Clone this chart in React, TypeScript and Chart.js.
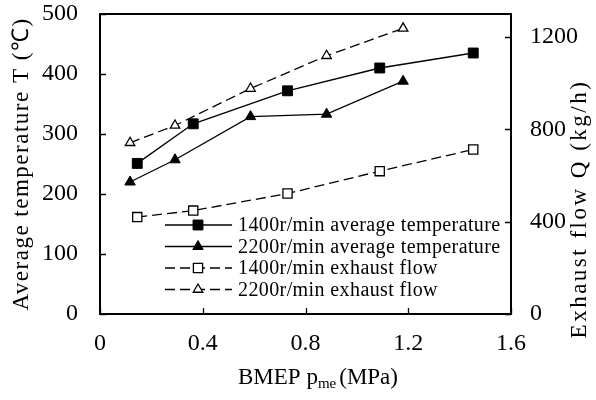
import React, { useEffect, useRef } from 'react';
import { Chart, registerables } from 'chart.js';

Chart.register(...registerables);

const FONT = '"Liberation Serif", "Times New Roman", serif';

// BMEP (MPa) values at 1400 r/min and 2200 r/min
const bmep1400 = [0.145, 0.363, 0.73, 1.089, 1.453];
const bmep2200 = [0.117, 0.292, 0.586, 0.882, 1.18];
// Average temperature (°C)
const temp1400 = [251, 317, 372, 410, 435];
const temp2200 = [220, 257, 329, 333, 388];
// Exhaust flow (kg/h)
const flow1400 = [420, 448, 522, 619, 713];
const flow2200 = [742, 817, 977, 1119, 1238];

const seriesLabels = [
  '1400r/min average temperature',
  '2200r/min average temperature',
  '1400r/min exhaust flow',
  '2200r/min exhaust flow',
];

const xTicks = [0, 0.4, 0.8, 1.2, 1.6];
const tempTicks = [0, 100, 200, 300, 400, 500];
const flowTicks = [0, 400, 800, 1200];

const xTitleMain = 'BMEP p';
const xTitleSub = 'me';
const xTitleTail = '(MPa)';
const yTitle = 'Average temperature T (℃)';
const y1Title = 'Exhaust flow Q (kg/h)';

const pts = (xs: number[], ys: number[]) => xs.map((x, i) => ({ x, y: ys[i] }));

function drawMarker(ctx: CanvasRenderingContext2D, style: string, cx: number, cy: number, r: number) {
  ctx.beginPath();
  if (style === 'rect') {
    const s = r * Math.SQRT1_2;
    ctx.rect(cx - s, cy - s, 2 * s, 2 * s);
  } else {
    let rad = 0;
    const third = (2 * Math.PI) / 3;
    ctx.moveTo(cx + Math.sin(rad) * r, cy - Math.cos(rad) * r);
    rad += third;
    ctx.lineTo(cx + Math.sin(rad) * r, cy - Math.cos(rad) * r);
    rad += third;
    ctx.lineTo(cx + Math.sin(rad) * r, cy - Math.cos(rad) * r);
    ctx.closePath();
  }
  ctx.fill();
  ctx.stroke();
}

const decor = {
  id: 'decor',
  afterDatasetsDraw(chart: any) {
    const { ctx, chartArea: a, scales } = chart;
    ctx.save();
    ctx.strokeStyle = '#000';
    ctx.setLineDash([]);
    // frame
    ctx.lineWidth = 2;
    ctx.strokeRect(a.left, a.top, a.right - a.left, a.bottom - a.top);
    // inward ticks
    ctx.lineWidth = 1.3;
    ctx.beginPath();
    for (const v of xTicks) {
      const px = Math.round(scales.x.getPixelForValue(v)) + 0.5;
      ctx.moveTo(px, a.bottom);
      ctx.lineTo(px, a.bottom - 6);
    }
    for (const v of tempTicks) {
      const py = Math.round(scales.y.getPixelForValue(v)) + 0.5;
      ctx.moveTo(a.left, py);
      ctx.lineTo(a.left + 6, py);
    }
    for (const v of flowTicks) {
      const py = Math.round(scales.y1.getPixelForValue(v)) + 0.5;
      ctx.moveTo(a.right, py);
      ctx.lineTo(a.right - 6, py);
    }
    ctx.stroke();

    // legend
    const lx0 = 165;
    const lx1 = 232;
    const lxm = 198;
    const rows = [225, 246.5, 268, 289.5];
    chart.data.datasets.forEach((ds: any, i: number) => {
      const y = rows[i];
      ctx.lineWidth = ds.borderWidth;
      ctx.strokeStyle = ds.borderColor;
      ctx.setLineDash(ds.borderDash || []);
      ctx.beginPath();
      ctx.moveTo(lx0, y);
      ctx.lineTo(lx1, y);
      ctx.stroke();
      ctx.setLineDash([]);
      ctx.fillStyle = ds.pointBackgroundColor;
      ctx.strokeStyle = ds.pointBorderColor;
      ctx.lineWidth = ds.pointBorderWidth;
      drawMarker(ctx, ds.pointStyle, lxm, y, ds.pointRadius);
      ctx.fillStyle = '#000';
      ctx.font = `20px ${FONT}`;
      ctx.textAlign = 'left';
      ctx.textBaseline = 'middle';
      (ctx as any).letterSpacing = '0.4px';
      ctx.fillText(ds.label, 238, y + 1);
      (ctx as any).letterSpacing = '0px';
    });

    // axis titles
    ctx.fillStyle = '#000';
    ctx.textBaseline = 'middle';
    ctx.textAlign = 'center';
    (ctx as any).letterSpacing = '1.5px';
    ctx.font = `23px ${FONT}`;
    ctx.save();
    ctx.translate(22, 164);
    ctx.rotate(-Math.PI / 2);
    ctx.fillText(yTitle, 0, 0);
    ctx.restore();
    ctx.save();
    ctx.translate(580, 209);
    ctx.rotate(-Math.PI / 2);
    (ctx as any).letterSpacing = '2.5px';
    ctx.fillText(y1Title, 0, 0);
    ctx.restore();
    (ctx as any).letterSpacing = '0px';

    // x title with subscript
    ctx.textBaseline = 'alphabetic';
    ctx.textAlign = 'left';
    const mainFont = `23px ${FONT}`;
    const subFont = `15px ${FONT}`;
    ctx.font = mainFont;
    const w1 = ctx.measureText(xTitleMain).width;
    const w3 = ctx.measureText(xTitleTail).width;
    ctx.font = subFont;
    const w2 = ctx.measureText(xTitleSub).width;
    const gap = 3;
    const total = w1 + w2 + gap + w3;
    let tx = 318 - total / 2;
    const by = 384;
    ctx.font = mainFont;
    ctx.fillText(xTitleMain, tx, by);
    tx += w1;
    ctx.font = subFont;
    ctx.fillText(xTitleSub, tx, by + 4);
    tx += w2 + gap;
    ctx.font = mainFont;
    ctx.fillText(xTitleTail, tx, by);
    ctx.restore();
  },
};

const noPadY = (w: number) => (s: any) => {
  s.width = w;
  s.paddingTop = 0;
  s.paddingBottom = 0;
};

export default function App() {
  const ref = useRef<HTMLCanvasElement>(null);
  useEffect(() => {
    if (!ref.current) return;
    const chart = new Chart(ref.current, {
      type: 'line',
      data: {
        datasets: [
          {
            label: seriesLabels[0],
            data: pts(bmep1400, temp1400),
            yAxisID: 'y',
            borderColor: '#000',
            borderWidth: 1.3,
            pointStyle: 'rect',
            pointRadius: 7,
            pointBackgroundColor: '#000',
            pointBorderColor: '#000',
            pointBorderWidth: 1,
            borderDash: [],
          },
          {
            label: seriesLabels[1],
            data: pts(bmep2200, temp2200),
            yAxisID: 'y',
            borderColor: '#000',
            borderWidth: 1.3,
            pointStyle: 'triangle',
            pointRadius: 6,
            pointBackgroundColor: '#000',
            pointBorderColor: '#000',
            pointBorderWidth: 1,
            borderDash: [],
          },
          {
            label: seriesLabels[2],
            data: pts(bmep1400, flow1400),
            yAxisID: 'y1',
            borderColor: '#000',
            borderWidth: 1.3,
            borderDash: [10, 5],
            pointStyle: 'rect',
            pointRadius: 6.5,
            pointBackgroundColor: '#fff',
            pointBorderColor: '#000',
            pointBorderWidth: 1.3,
          },
          {
            label: seriesLabels[3],
            data: pts(bmep2200, flow2200),
            yAxisID: 'y1',
            borderColor: '#000',
            borderWidth: 1.3,
            borderDash: [10, 5],
            pointStyle: 'triangle',
            pointRadius: 5.5,
            pointBackgroundColor: '#fff',
            pointBorderColor: '#000',
            pointBorderWidth: 1.3,
          },
        ],
      },
      options: {
        responsive: false,
        animation: false,
        devicePixelRatio: 1,
        layout: { padding: { top: 14, left: 0, right: 0, bottom: 0 } },
        plugins: { legend: { display: false }, tooltip: { enabled: false } },
        elements: { line: { tension: 0, fill: false } },
        scales: {
          x: {
            type: 'linear',
            min: 0,
            max: 1.6,
            grid: { display: false, drawTicks: false },
            border: { display: false },
            afterFit: (s: any) => {
              s.height = 86;
              s.paddingLeft = 0;
              s.paddingRight = 0;
            },
            afterBuildTicks: (s: any) => { s.ticks = xTicks.map((v) => ({ value: v })); },
            ticks: {
              padding: 15,
              color: '#000',
              font: { family: FONT, size: 24 },
              callback: (v: any) => String(Number(v)),
            },
          },
          y: {
            type: 'linear',
            position: 'left',
            min: 0,
            max: 500,
            grid: { display: false, drawTicks: false },
            border: { display: false },
            afterFit: noPadY(100),
            afterBuildTicks: (s: any) => { s.ticks = tempTicks.map((v) => ({ value: v })); },
            ticks: {
              padding: 22,
              color: '#000',
              font: { family: FONT, size: 24 },
              callback: (v: any) => String(Number(v)),
            },
          },
          y1: {
            type: 'linear',
            position: 'right',
            min: 0,
            max: 1300,
            grid: { display: false, drawTicks: false },
            border: { display: false },
            afterFit: noPadY(85),
            afterBuildTicks: (s: any) => { s.ticks = flowTicks.map((v) => ({ value: v })); },
            ticks: {
              padding: 19,
              color: '#000',
              font: { family: FONT, size: 24 },
              callback: (v: any) => String(Number(v)),
            },
          },
        },
      },
      plugins: [decor],
    } as any);
    return () => chart.destroy();
  }, []);
  return (
    <div style={{ position: 'fixed', left: 0, top: 0, width: 596, height: 400, background: '#fff' }}>
      <canvas ref={ref} width={596} height={400} />
    </div>
  );
}
